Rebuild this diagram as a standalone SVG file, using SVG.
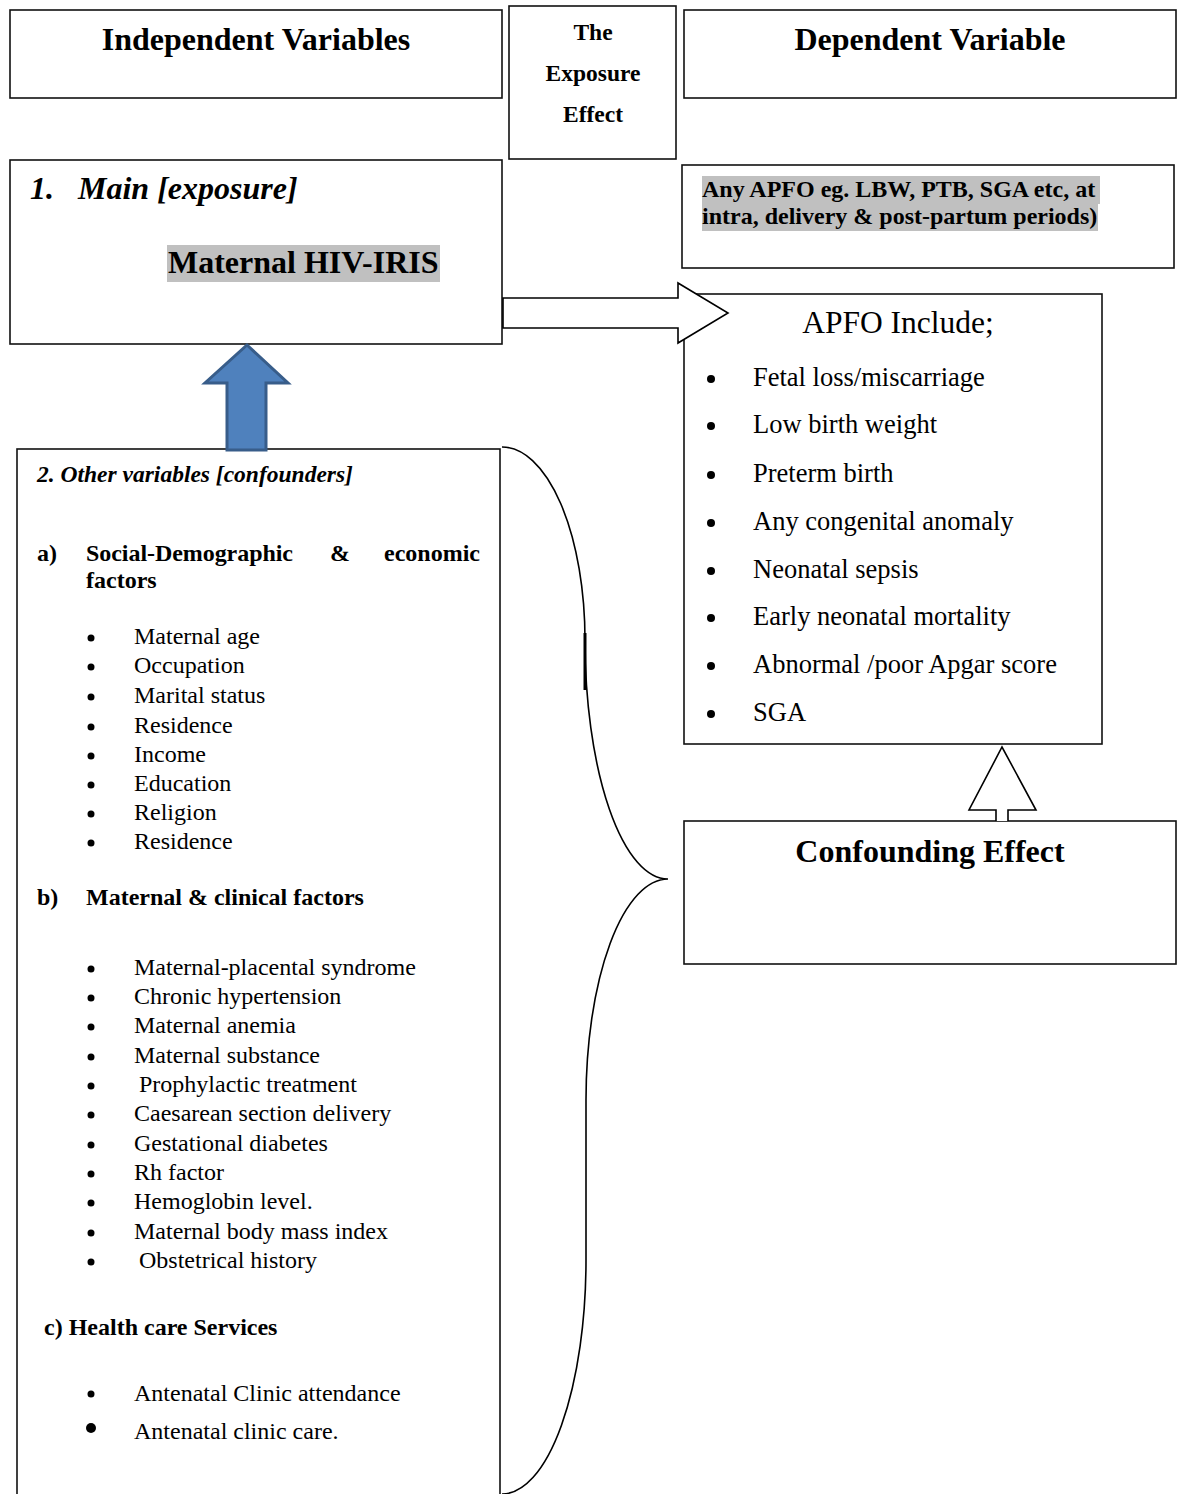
<svg xmlns="http://www.w3.org/2000/svg" width="1183" height="1494" viewBox="0 0 1183 1494">
<style>
text{font-family:"Liberation Serif","Times New Roman",serif;fill:#000}
.box{fill:#fff;stroke:#111;stroke-width:1.6}
.h32{font-size:32px;font-weight:bold}
.ex{font-size:23.5px;font-weight:bold}
.bi{font-size:23.5px;font-weight:bold;font-style:italic}
.hd{font-size:24px;font-weight:bold}
.li{font-size:24px}
.ri{font-size:26.5px}
.hl{fill:#c0c0c0}
.conn{fill:none;stroke:#000;stroke-width:1.6}
</style>
<rect width="1183" height="1494" fill="#fff"/>

<g id="independent-header">
<rect class="box" x="10" y="10" width="492" height="88"/>
<text class="h32" x="256" y="50" text-anchor="middle">Independent Variables</text>
</g>

<g id="exposure-effect-header">
<rect class="box" x="509" y="6" width="167" height="153"/>
<text class="ex" x="593" y="40" text-anchor="middle">The</text>
<text class="ex" x="593" y="81" text-anchor="middle">Exposure</text>
<text class="ex" x="593" y="122" text-anchor="middle">Effect</text>
</g>

<g id="dependent-header">
<rect class="box" x="684" y="10" width="492" height="88"/>
<text class="h32" x="930" y="50" text-anchor="middle">Dependent Variable</text>
</g>

<g id="main-exposure">
<rect class="box" x="10" y="160" width="492" height="184"/>
<text x="30" y="199" font-size="32" font-style="italic" font-weight="bold">1.</text>
<text x="78" y="199" font-size="32" font-style="italic" font-weight="bold">Main [exposure]</text>
<rect class="hl" x="167" y="245" width="273" height="37"/>
<text class="h32" x="168" y="273">Maternal HIV-IRIS</text>
</g>

<g id="apfo-outcome">
<rect class="box" x="682" y="165" width="492" height="103"/>
<rect class="hl" x="702" y="176" width="398" height="28"/>
<rect class="hl" x="702" y="204" width="396" height="27"/>
<text x="702" y="197" font-size="24" font-weight="bold">Any APFO eg. LBW, PTB, SGA etc, at</text>
<text x="702" y="224" font-size="24" font-weight="bold">intra, delivery &amp; post-partum periods)</text>
</g>

<g id="apfo-include">
<rect class="box" x="684" y="294" width="418" height="450"/>
<text x="898" y="333" font-size="31.5" text-anchor="middle">APFO Include;</text>
<g fill="#000">
<circle cx="711" cy="379" r="4"/><circle cx="711" cy="426" r="4"/><circle cx="711" cy="475" r="4"/><circle cx="711" cy="523" r="4"/>
<circle cx="711" cy="571" r="4"/><circle cx="711" cy="618" r="4"/><circle cx="711" cy="666" r="4"/><circle cx="711" cy="714" r="4"/>
</g>
<text class="ri" x="753" y="386">Fetal loss/miscarriage</text>
<text class="ri" x="753" y="433">Low birth weight</text>
<text class="ri" x="753" y="482">Preterm birth</text>
<text class="ri" x="753" y="530">Any congenital anomaly</text>
<text class="ri" x="753" y="578">Neonatal sepsis</text>
<text class="ri" x="753" y="625">Early neonatal mortality</text>
<text class="ri" x="753" y="673">Abnormal /poor Apgar score</text>
<text class="ri" x="753" y="721">SGA</text>
</g>

<g id="confounding-effect">
<rect class="box" x="684" y="821" width="492" height="143"/>
<text class="h32" x="930" y="862" text-anchor="middle">Confounding Effect</text>
</g>

<g id="confounders">
<rect class="box" x="17" y="449" width="483" height="1060"/>
<text class="bi" x="37" y="482">2. Other variables [confounders]</text>
<text class="hd" x="37" y="561">a)</text>
<text class="hd" x="86" y="561" textLength="207" lengthAdjust="spacing">Social-Demographic</text>
<text class="hd" x="330" y="561">&amp;</text>
<text class="hd" x="480" y="561" text-anchor="end">economic</text>
<text class="hd" x="86" y="588">factors</text>
<g fill="#000">
<circle cx="91" cy="638" r="3.5"/><circle cx="91" cy="667" r="3.5"/><circle cx="91" cy="697" r="3.5"/><circle cx="91" cy="727" r="3.5"/>
<circle cx="91" cy="756" r="3.5"/><circle cx="91" cy="785" r="3.5"/><circle cx="91" cy="814" r="3.5"/><circle cx="91" cy="843" r="3.5"/>
</g>
<text class="li" x="134" y="644">Maternal age</text>
<text class="li" x="134" y="673">Occupation</text>
<text class="li" x="134" y="703">Marital status</text>
<text class="li" x="134" y="733">Residence</text>
<text class="li" x="134" y="762">Income</text>
<text class="li" x="134" y="791">Education</text>
<text class="li" x="134" y="820">Religion</text>
<text class="li" x="134" y="849">Residence</text>
<text class="hd" x="37" y="905">b)</text>
<text class="hd" x="86" y="905">Maternal &amp; clinical factors</text>
<g fill="#000">
<circle cx="91" cy="969" r="3.5"/><circle cx="91" cy="998" r="3.5"/><circle cx="91" cy="1027" r="3.5"/><circle cx="91" cy="1057" r="3.5"/>
<circle cx="91" cy="1086" r="3.5"/><circle cx="91" cy="1115" r="3.5"/><circle cx="91" cy="1145" r="3.5"/><circle cx="91" cy="1174" r="3.5"/>
<circle cx="91" cy="1203" r="3.5"/><circle cx="91" cy="1233" r="3.5"/><circle cx="91" cy="1262" r="3.5"/>
</g>
<text class="li" x="134" y="975">Maternal-placental syndrome</text>
<text class="li" x="134" y="1004">Chronic hypertension</text>
<text class="li" x="134" y="1033">Maternal anemia</text>
<text class="li" x="134" y="1063">Maternal substance</text>
<text class="li" x="139" y="1092">Prophylactic treatment</text>
<text class="li" x="134" y="1121">Caesarean section delivery</text>
<text class="li" x="134" y="1151">Gestational diabetes</text>
<text class="li" x="134" y="1180">Rh factor</text>
<text class="li" x="134" y="1209">Hemoglobin level.</text>
<text class="li" x="134" y="1239">Maternal body mass index</text>
<text class="li" x="139" y="1268">Obstetrical history</text>
<text class="hd" x="44" y="1335">c) Health care Services</text>
<circle cx="91" cy="1394" r="3.5" fill="#000"/>
<circle cx="91" cy="1428" r="5" fill="#000"/>
<text class="li" x="134" y="1401">Antenatal Clinic attendance</text>
<text class="li" x="134" y="1439">Antenatal clinic care.</text>
</g>

<g id="connectors">
<path d="M503,298 L678,298 L678,283 L728,313 L678,343 L678,328 L503,328 Z" fill="#fff" stroke="#000" stroke-width="1.6"/>
<path d="M996,821 L996,810 L969,810 L1002,747 L1036,810 L1008,810 L1008,821" fill="#fff" stroke="#000" stroke-width="1.6"/>
<path d="M247,345 L288,383 L266,383 L266,450 L227,450 L227,383 L205,383 Z" fill="#4f81bd" stroke="#385d8a" stroke-width="3" stroke-linejoin="miter"/>
<path class="conn" d="M502,447 A83,193 0 0 1 585,640 A83,239 0 0 0 668,879 A82,221 0 0 0 586,1100 L586,1260 A84,234 0 0 1 502,1494"/>
<line x1="585" y1="633" x2="585" y2="690" stroke="#000" stroke-width="3"/>
</g>
</svg>
